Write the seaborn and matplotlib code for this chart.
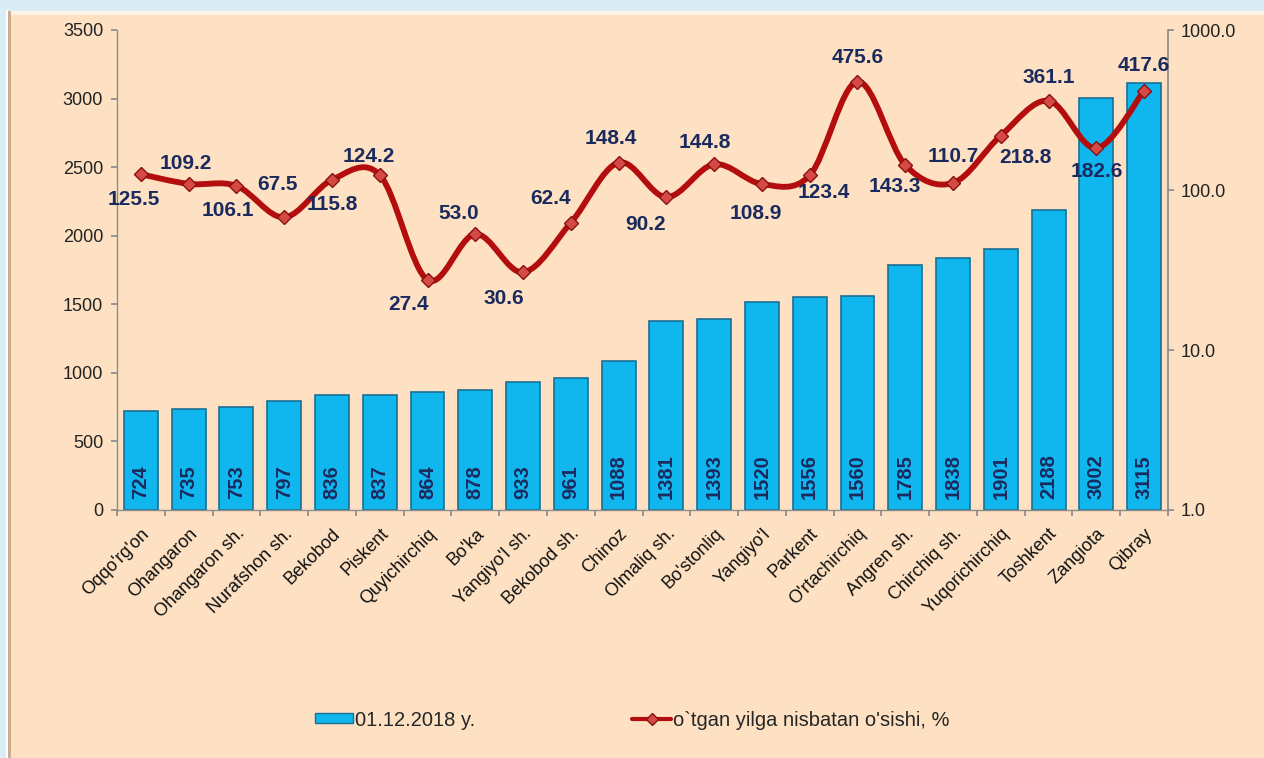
import numpy as np
import matplotlib

matplotlib.use("Agg")
import matplotlib.pyplot as plt
import seaborn as sns
from matplotlib.patches import Rectangle, PathPatch
from matplotlib.path import Path
from matplotlib.lines import Line2D
from matplotlib.ticker import FormatStrFormatter, FixedLocator, NullLocator


districts = [
    "Oqqo'rg'on", "Ohangaron", "Ohangaron sh.", "Nurafshon sh.", "Bekobod",
    "Piskent", "Quyichirchiq", "Bo'ka", "Yangiyo'l sh.", "Bekobod sh.",
    "Chinoz", "Olmaliq sh.", "Bo'stonliq", "Yangiyo'l", "Parkent",
    "O'rtachirchiq", "Angren sh.", "Chirchiq sh.", "Yuqorichirchiq",
    "Toshkent", "Zangiota", "Qibray",
]
count_2018 = [724, 735, 753, 797, 836, 837, 864, 878, 933, 961, 1088, 1381,
              1393, 1520, 1556, 1560, 1785, 1838, 1901, 2188, 3002, 3115]
growth_pct = [125.5, 109.2, 106.1, 67.5, 115.8, 124.2, 27.4, 53.0, 30.6, 62.4,
              148.4, 90.2, 144.8, 108.9, 123.4, 475.6, 143.3, 110.7, 218.8,
              361.1, 182.6, 417.6]
# label offset (px) of each growth label relative to its marker
label_dx = [-7, -3, -9, -7, 0, -11, -19, -17, -19, -20, -8, -21, -9, -6, 14,
            0, -10, 0, 25, 0, 0, 0]
label_dy = [-25, 20, -25, 33, -25, 18, -25, 21, -26, 24, 24, -27, 22, -29, -17,
            24, -21, 26, -22, 23, -23, 25]

COLORS = {
    "outer": "#daedf5",
    "panel": "#fde1c2",
    "bar": "#10b6ee",
    "bar_edge": "#1a6f94",
    "line": "#b40d0d",
    "marker": "#d64a45",
    "marker_edge": "#8a0f0f",
    "label": "#1b2a5e",
    "axis": "#8c8c8c",
}
FONT = ["Liberation Sans", "DejaVu Sans"]


def smooth_path(xs, ys):
    """Excel-like smoothed line: cubic Bezier through points in log space."""
    lx = np.asarray(xs, dtype=float)
    ly = np.log10(ys)
    n = len(lx)
    verts = [(lx[0], ly[0])]
    codes = [Path.MOVETO]
    for i in range(n - 1):
        p0 = np.array([lx[max(i - 1, 0)], ly[max(i - 1, 0)]])
        p1 = np.array([lx[i], ly[i]])
        p2 = np.array([lx[i + 1], ly[i + 1]])
        p3 = np.array([lx[min(i + 2, n - 1)], ly[min(i + 2, n - 1)]])
        c1 = p1 + (p2 - p0) / 6
        c2 = p2 - (p3 - p1) / 6
        verts += [tuple(c1), tuple(c2), tuple(p2)]
        codes += [Path.CURVE4] * 3
    verts = np.array(verts)
    verts[:, 1] = 10 ** verts[:, 1]
    return Path(verts, codes)


sns.set_theme(style="white")
plt.rcParams["font.family"] = FONT

fig = plt.figure(figsize=(12.64, 7.58), dpi=100)
fig.patch.set_facecolor(COLORS["outer"])
for x0, w, top, color in [(6, 2, 10, "white"), (8, 1264, 11, "#c9ad90"),
                          (11, 1264, 11, "#fef3e6"),
                          (11, 1264, 15, COLORS["panel"])]:
    fig.add_artist(Rectangle((x0 / 1264, 0), w / 1264, 1 - top / 758,
                             transform=fig.transFigure, facecolor=color,
                             edgecolor="none", zorder=-5))

ax = fig.add_axes([117 / 1264, 1 - 510 / 758, (1168 - 117) / 1264, 480 / 758])
ax.set_facecolor("none")

sns.barplot(x=districts, y=count_2018, ax=ax, color=COLORS["bar"], saturation=1,
            width=0.71, edgecolor=COLORS["bar_edge"], linewidth=1.2)

for i, v in enumerate(count_2018):
    ax.annotate(str(v), xy=(i, 0), xytext=(0, 11), textcoords="offset pixels",
                rotation=90, ha="center", va="bottom", fontsize=14.5,
                fontweight="bold", color=COLORS["label"])

ax.set_xlim(-0.5, len(districts) - 0.5)
ax.set_ylim(0, 3500)
ax.set_yticks(np.arange(0, 3501, 500))
ax.set_xlabel("")
ax.set_ylabel("")
ax.xaxis.set_major_locator(FixedLocator(np.arange(-0.5, len(districts), 1)))
ax.xaxis.set_minor_locator(FixedLocator(np.arange(len(districts))))
ax.set_xticklabels([], minor=False)
ax.set_xticklabels(districts, minor=True, rotation=45, ha="right",
                   rotation_mode="anchor", fontsize=13, color="#111111")
ax.tick_params(axis="x", which="major", direction="out", length=4,
               color=COLORS["axis"], bottom=True)
ax.tick_params(axis="x", which="minor", length=0, pad=11, bottom=True)
ax.tick_params(axis="y", direction="out", length=4, color=COLORS["axis"],
               left=True, labelsize=13, labelcolor="#222222", pad=6)
for side in ["top", "right"]:
    ax.spines[side].set_visible(False)
for side in ["left", "bottom"]:
    ax.spines[side].set_color(COLORS["axis"])
    ax.spines[side].set_linewidth(1)

ax2 = ax.twinx()
ax2.set_yscale("log")
ax2.set_ylim(1, 1000)
ax2.yaxis.set_major_locator(FixedLocator([1, 10, 100, 1000]))
ax2.yaxis.set_minor_locator(NullLocator())
ax2.yaxis.set_major_formatter(FormatStrFormatter("%.1f"))
ax2.tick_params(axis="y", direction="out", length=4, color=COLORS["axis"],
                right=True, labelsize=13, labelcolor="#222222", pad=5)
for side in ["top", "left", "bottom"]:
    ax2.spines[side].set_visible(False)
ax2.spines["right"].set_color(COLORS["axis"])
ax2.grid(False)
ax.grid(False)

xs = np.arange(len(growth_pct))
ax2.add_patch(PathPatch(smooth_path(xs, growth_pct), facecolor="none",
                        edgecolor=COLORS["line"], linewidth=4.2,
                        capstyle="round", joinstyle="round", zorder=3))
ax2.plot(xs, growth_pct, linestyle="none", marker="D", markersize=7.5,
         markerfacecolor=COLORS["marker"], markeredgecolor=COLORS["marker_edge"],
         markeredgewidth=1, zorder=4)

for x, y, dx, dy in zip(xs, growth_pct, label_dx, label_dy):
    ax2.annotate(f"{y:.1f}", xy=(x, y), xytext=(dx, dy), textcoords="offset pixels",
                 ha="center", va="center", fontsize=15, fontweight="bold",
                 color=COLORS["label"], zorder=5)

handles = [
    Rectangle((0, 0), 1, 1, facecolor=COLORS["bar"], edgecolor=COLORS["bar_edge"]),
    Line2D([], [], color=COLORS["line"], linewidth=3, marker="D", markersize=6,
           markerfacecolor=COLORS["marker"], markeredgecolor=COLORS["marker_edge"]),
]
fig.legend(handles, ["01.12.2018 y.", "o`tgan yilga nisbatan o'sishi, %"],
           loc="center", bbox_to_anchor=(0.5, 1 - 720 / 758), ncol=2,
           frameon=False, fontsize=14.5, columnspacing=7.8, handlelength=1.9,
           handletextpad=0.1, handleheight=0.4)

fig.savefig("out.png", dpi=100, facecolor=fig.get_facecolor())
